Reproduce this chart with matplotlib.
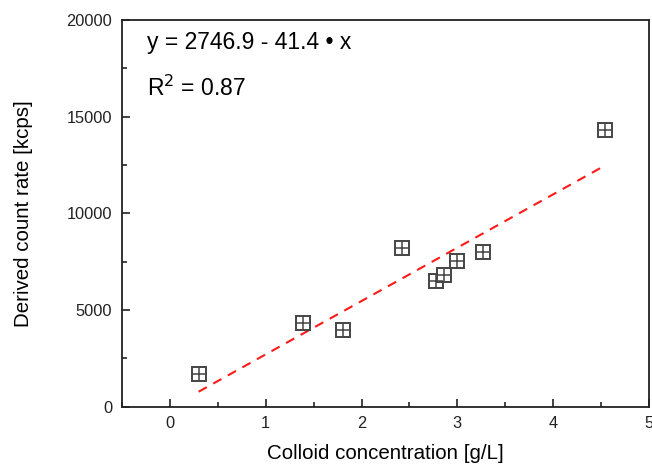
import matplotlib
matplotlib.use("Agg")
import matplotlib.pyplot as plt
from matplotlib.ticker import MultipleLocator

plt.rcParams['font.family'] = ['Liberation Sans', 'DejaVu Sans']

conc = [0.30, 1.39, 1.81, 2.42, 2.775, 2.865, 3.00, 3.265, 4.546]
rate = [1676, 4344, 3951, 8192, 6501, 6811, 7520, 8016, 14311]
fit_x = [0.30, 4.55]
fit_y = [776, 12500]
eq_text = "y = 2746.9 - 41.4 \u2022 x"
r2_text = "R$^2$ = 0.87"
xlabel = "Colloid concentration [g/L]"
ylabel = "Derived count rate [kcps]"

fig = plt.figure(figsize=(6.52, 4.67), dpi=100)
ax = fig.add_axes([122/652, (467-406.7)/467, (649-122)/652, (406.7-20)/467])

ax.plot(fit_x, fit_y, color='#ff1a1a', lw=1.5, linestyle=(0, (4.5, 3.5)), zorder=2)
ax.plot(conc, rate, linestyle='none', marker='s', markersize=10.5, markerfacecolor='white',
        markeredgecolor='#444444', markeredgewidth=1.4, zorder=3)
ax.plot(conc, rate, linestyle='none', marker='+', markersize=9.5, markeredgecolor='#444444',
        markeredgewidth=1.1, zorder=4)

ax.set_xlim(-0.5, 5)
ax.set_ylim(0, 20000)
ax.xaxis.set_major_locator(MultipleLocator(1))
ax.xaxis.set_minor_locator(MultipleLocator(0.5))
ax.yaxis.set_major_locator(MultipleLocator(5000))
ax.yaxis.set_minor_locator(MultipleLocator(2500))
ax.tick_params(which='both', direction='in', top=False, right=False, labelsize=11.8, width=1.2, colors='#222222')
ax.tick_params(which='major', length=6, pad=7)
ax.tick_params(which='minor', length=3.5)
for s in ax.spines.values():
    s.set_linewidth(1.3)
    s.set_color('#222222')

ax.set_xlabel(xlabel, fontsize=14.8, labelpad=9)
ax.set_ylabel(ylabel, fontsize=14.8, labelpad=24)

fig.text(147/652, 1-43/467, eq_text, fontsize=16.5, va='center', ha='left')
fig.text(147/652, 1-88/467, r2_text, fontsize=16.5, va='center', ha='left')

fig.savefig("out.png", dpi=100)
